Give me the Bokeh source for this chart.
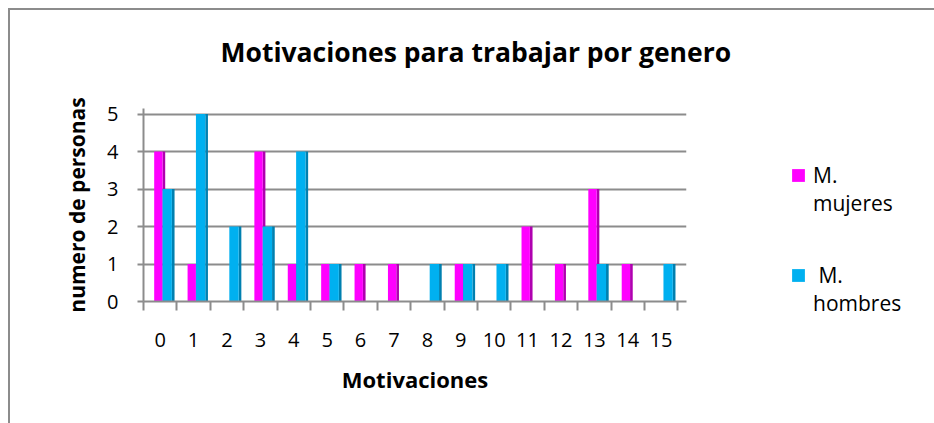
from bokeh.plotting import figure
from bokeh.models import ColumnDataSource, FixedTicker, Legend, LegendItem, Range1d, Title
from bokeh.transform import dodge
from bokeh.embed import file_html
from bokeh.resources import INLINE

# ---- data ----
motivaciones = list(range(16))
tick_labels = [str(m) for m in motivaciones]
mujeres = [4, 1, 0, 4, 1, 1, 1, 1, 0, 1, 0, 2, 1, 3, 1, 0]
hombres = [3, 5, 2, 2, 4, 1, 0, 0, 1, 1, 1, 0, 0, 1, 0, 1]
title_text = "Motivaciones para trabajar por genero"
x_title = "Motivaciones"
y_title = "numero de personas"
serie_mujeres = "\nM.\nmujeres"
serie_hombres = "\n M.\nhombres"

MAG, MAG_SIDE = "#FF00FF", "#B000B0"
CYA, CYA_SIDE = "#00B0F0", "#0080B0"
GRID = "#8C8C8C"
FONT = "Open Sans"

src = ColumnDataSource(dict(x=motivaciones, m=mujeres, h=hombres))

p = figure(frame_width=543, frame_height=193, output_backend="svg",
           toolbar_location=None,
           x_range=Range1d(-0.5, 15.76), y_range=Range1d(0, 5.15),
           min_border_left=133, min_border_right=10, min_border_top=98,
           min_border_bottom=122)
p.styles = {"border-left": f"2px solid {GRID}", "border-top": f"2px solid {GRID}",
            "margin-left": "8px", "margin-top": "8px"}
p.outline_line_color = None
p.background_fill_color = "white"
p.border_fill_color = "white"

# title: a blank spacer panel next to the frame, the real title above it
p.add_layout(Title(text=" ", text_font_size="12px", standoff=21), "above")
p.add_layout(Title(text=title_text, align="left", offset=77, vertical_align="top",
                   standoff=0, text_font=FONT, text_font_style="bold",
                   text_font_size="26.5px", text_color="black"), "above")

# bars: side faces (darker) then front faces
p.vbar(x=dodge("x", 0.11, range=None), top="m", width=0.08, source=src,
       fill_color=MAG_SIDE, line_color=None)
r_m = p.vbar(x=dodge("x", -0.055, range=None), top="m", width=0.25, source=src,
             fill_color=MAG, line_color=None)
p.vbar(x=dodge("x", 0.39, range=None), top="h", width=0.08, source=src,
       fill_color=CYA_SIDE, line_color=None)
r_h = p.vbar(x=dodge("x", 0.21, range=None), top="h", width=0.28, source=src,
             fill_color=CYA, line_color=None)

# grid
p.xgrid.visible = False
p.ygrid.ticker = FixedTicker(ticks=[0, 1, 2, 3, 4, 5])
p.ygrid.grid_line_color = GRID
p.ygrid.grid_line_width = 2

# y axis
p.yaxis.ticker = FixedTicker(ticks=[0, 1, 2, 3, 4, 5])
p.yaxis.axis_line_color = GRID
p.yaxis.axis_line_width = 2
p.yaxis.major_tick_line_color = GRID
p.yaxis.major_tick_line_width = 2
p.yaxis.major_tick_out = 6
p.yaxis.major_tick_in = 0
p.yaxis.minor_tick_line_color = None
p.yaxis.major_label_text_font = FONT
p.yaxis.major_label_text_font_size = "20px"
p.yaxis.major_label_text_color = "black"
p.yaxis.major_label_standoff = 19
p.yaxis.axis_label = y_title
p.yaxis.axis_label_text_font = FONT
p.yaxis.axis_label_text_font_style = "bold"
p.yaxis.axis_label_text_font_size = "21px"
p.yaxis.axis_label_text_color = "black"
p.yaxis.axis_label_standoff = 13

# x axis
p.xaxis.ticker = FixedTicker(ticks=motivaciones,
                             minor_ticks=[m - 0.5 for m in motivaciones] + [15.5])
p.xaxis.major_label_overrides = {m: t for m, t in zip(motivaciones, tick_labels)}
p.xaxis.axis_line_color = GRID
p.xaxis.axis_line_width = 2
p.xaxis.major_tick_line_color = None
p.xaxis.major_tick_out = 0
p.xaxis.major_tick_in = 0
p.xaxis.minor_tick_line_color = GRID
p.xaxis.minor_tick_line_width = 2
p.xaxis.minor_tick_out = 9
p.xaxis.minor_tick_in = 0
p.xaxis.major_label_text_font = FONT
p.xaxis.major_label_text_font_size = "20px"
p.xaxis.major_label_text_color = "black"
p.xaxis.major_label_standoff = 22
p.xaxis.axis_label = x_title
p.xaxis.axis_label_text_font = FONT
p.xaxis.axis_label_text_font_style = "bold"
p.xaxis.axis_label_text_font_size = "22px"
p.xaxis.axis_label_text_color = "black"
p.xaxis.axis_label_standoff = 14

# legend in the right panel
lg = Legend(items=[LegendItem(label=serie_mujeres, renderers=[r_m]),
                   LegendItem(label=serie_hombres, renderers=[r_h])],
            location=(104, -16), padding=0, margin=0, spacing=16,
            border_line_color=None, background_fill_alpha=0,
            glyph_width=16, glyph_height=16, label_standoff=7,
            label_text_font=FONT, label_text_font_size="21px",
            label_text_line_height=1.5, label_text_color="black")
p.add_layout(lg, "right")

open("out.html", "w").write(file_html(p, INLINE))
